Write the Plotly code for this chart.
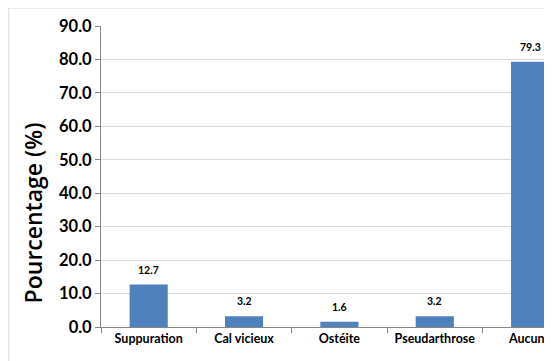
import plotly.graph_objects as go

categories = ["Suppuration", "Cal vicieux", "Ostéite", "Pseudarthrose", "Aucune"]
values = [12.7, 3.2, 1.6, 3.2, 79.3]
y_ticks = [0, 10, 20, 30, 40, 50, 60, 70, 80, 90]
y_tick_labels = [f"{v:.1f}" for v in y_ticks]

FONT = "Lato, 'Open Sans', sans-serif"

fig = go.Figure()
fig.add_trace(go.Bar(
    x=categories, y=values,
    marker=dict(color="#4F81BD", line=dict(width=0)),
    width=0.4,
    hoverinfo="skip",
))

for c, v in zip(categories, values):
    fig.add_annotation(
        x=c, y=v, xref="x", yref="y",
        text=f"<b>{v:.1f}</b>", showarrow=False,
        yanchor="bottom", yshift=7,
        font=dict(family=FONT, size=10.5, color="#000000"),
    )

fig.add_annotation(
    x=-0.153, y=0.379, xref="paper", yref="paper",
    text="Pourcentage (%)", showarrow=False, textangle=-90,
    xanchor="center", yanchor="middle",
    font=dict(family="'Open Sans', sans-serif", size=23, color="#000000", weight=600),
)

fig.add_shape(
    type="rect", xref="paper", yref="paper",
    x0=-0.206, x1=1.2, y0=-0.2, y1=1.0598,
    line=dict(color="#D9D9D9", width=1), fillcolor="rgba(0,0,0,0)", layer="below",
)

fig.update_layout(
    width=544, height=353,
    margin=dict(l=93, r=0, t=18, b=34),
    paper_bgcolor="white", plot_bgcolor="white",
    showlegend=False,
    font=dict(family=FONT, color="#000000"),
    xaxis=dict(
        type="category",
        range=[-0.5, 4.198],
        showline=True, linecolor="#868686", linewidth=1,
        ticks="outside", tickson="boundaries", ticklen=5, tickcolor="#868686",
        showgrid=False,
        tickfont=dict(family=FONT, size=12.5, color="#000000"),
        tickprefix="<b>", ticksuffix="</b>",
    ),
    yaxis=dict(
        range=[0, 90],
        tickvals=y_ticks, ticktext=[f"<b>{t}</b>" for t in y_tick_labels],
        showline=True, linecolor="#868686", linewidth=1,
        ticks="outside", ticklen=5, tickcolor="#868686",
        showgrid=True, gridcolor="#D9D9D9", gridwidth=1,
        zeroline=False,
        tickfont=dict(family=FONT, size=16.5, color="#000000"),
    ),
)

fig.write_html("out.html")
